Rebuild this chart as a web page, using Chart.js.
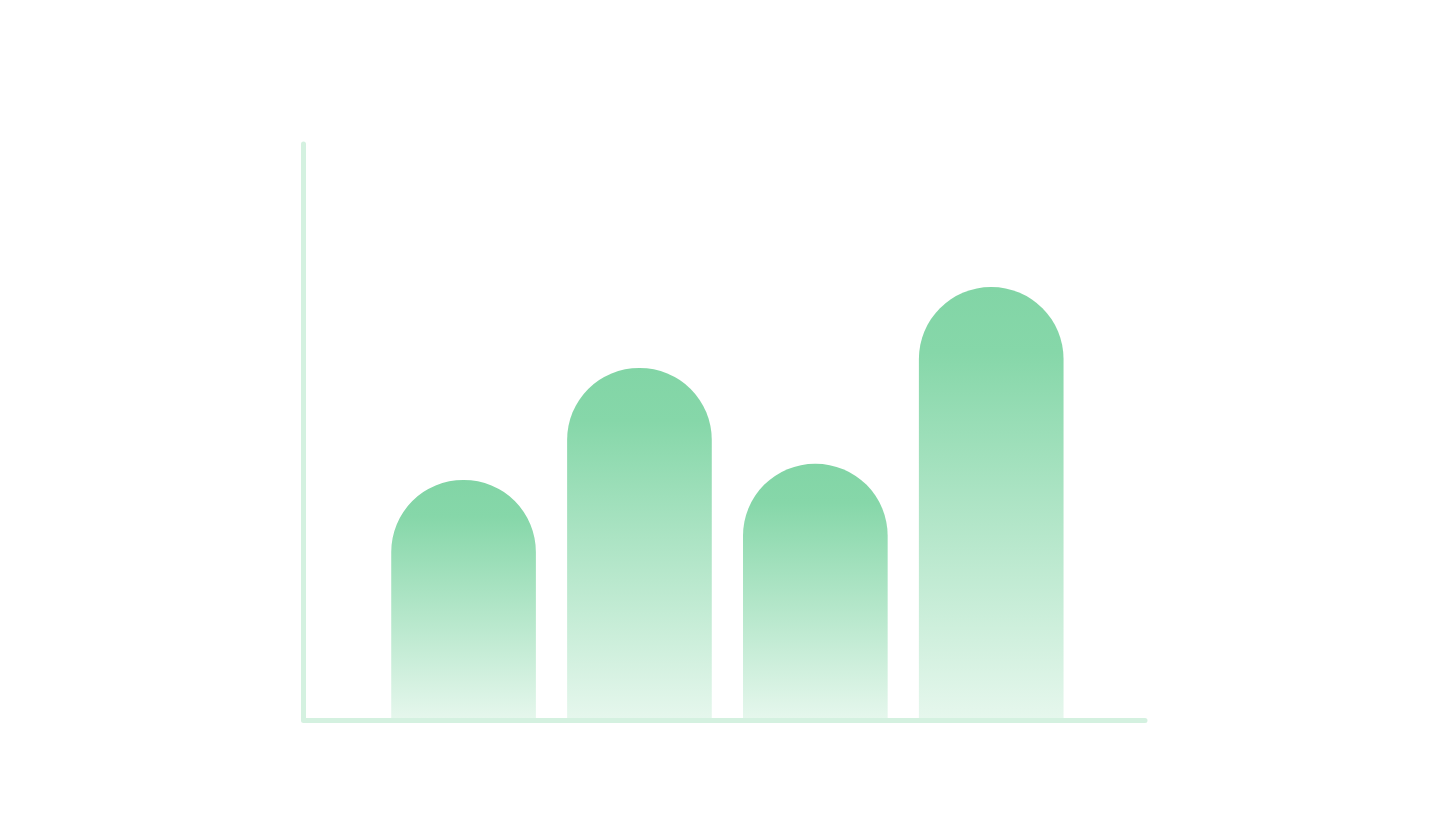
<!DOCTYPE html>
<html>
<head>
<meta charset="utf-8">
<style>
html,body{margin:0;padding:0;background:#ffffff;overflow:hidden;}
#wrap{width:1452px;height:816px;}
</style>
<script src="https://cdn.jsdelivr.net/npm/chart.js@4.4.1/dist/chart.umd.min.js"></script>
</head>
<body>
<div id="wrap"><canvas id="c" width="1452" height="816"></canvas></div>
<script>
// Data
const categories = [1, 2, 3, 4];
const values = [41.6, 61.0, 44.4, 75.0];
const yMax = 100;

const topColor = '#82d5a6';
const bottomColor = '#e6f7ed';
const axisColor = '#d4f1e0';

const axisPlugin = {
  id: 'lAxis',
  afterDatasetsDraw(chart) {
    const a = chart.chartArea;
    const c = chart.ctx;
    c.save();
    c.strokeStyle = axisColor;
    c.lineWidth = 5;
    c.lineCap = 'round';
    c.lineJoin = 'round';
    c.beginPath();
    c.moveTo(a.left, a.top + 1);
    c.lineTo(a.left, a.bottom);
    c.lineTo(a.right - 1, a.bottom);
    c.stroke();
    c.restore();
  }
};

function barGradient(context) {
  const chart = context.chart;
  const area = chart.chartArea;
  if (!area || context.raw == null) return topColor;
  const ys = chart.scales.y;
  const v = context.raw.y !== undefined ? context.raw.y : context.raw;
  const top = ys.getPixelForValue(v);
  const bottom = ys.getPixelForValue(0);
  const g = chart.ctx.createLinearGradient(0, top, 0, bottom);
  g.addColorStop(0, topColor);
  g.addColorStop(0.15, '#86d7a9');
  g.addColorStop(1, bottomColor);
  return g;
}

new Chart(document.getElementById('c'), {
  type: 'bar',
  data: {
    datasets: [{
      data: categories.map((x, i) => ({x: x, y: values[i]})),
      backgroundColor: barGradient,
      borderWidth: 0,
      borderRadius: 72,
      borderSkipped: 'start',
      barThickness: 144
    }]
  },
  options: {
    responsive: false,
    devicePixelRatio: 1,
    animation: false,
    layout: { padding: { left: 303.5, right: 306, top: 143, bottom: 95.5 } },
    plugins: { legend: { display: false }, tooltip: { enabled: false } },
    scales: {
      x: { type: 'linear', min: 0.09, max: 4.88, offset: false, grid: { offset: false }, display: false },
      y: { min: 0, max: yMax, display: false }
    }
  },
  plugins: [axisPlugin]
});
</script>
</body>
</html>
